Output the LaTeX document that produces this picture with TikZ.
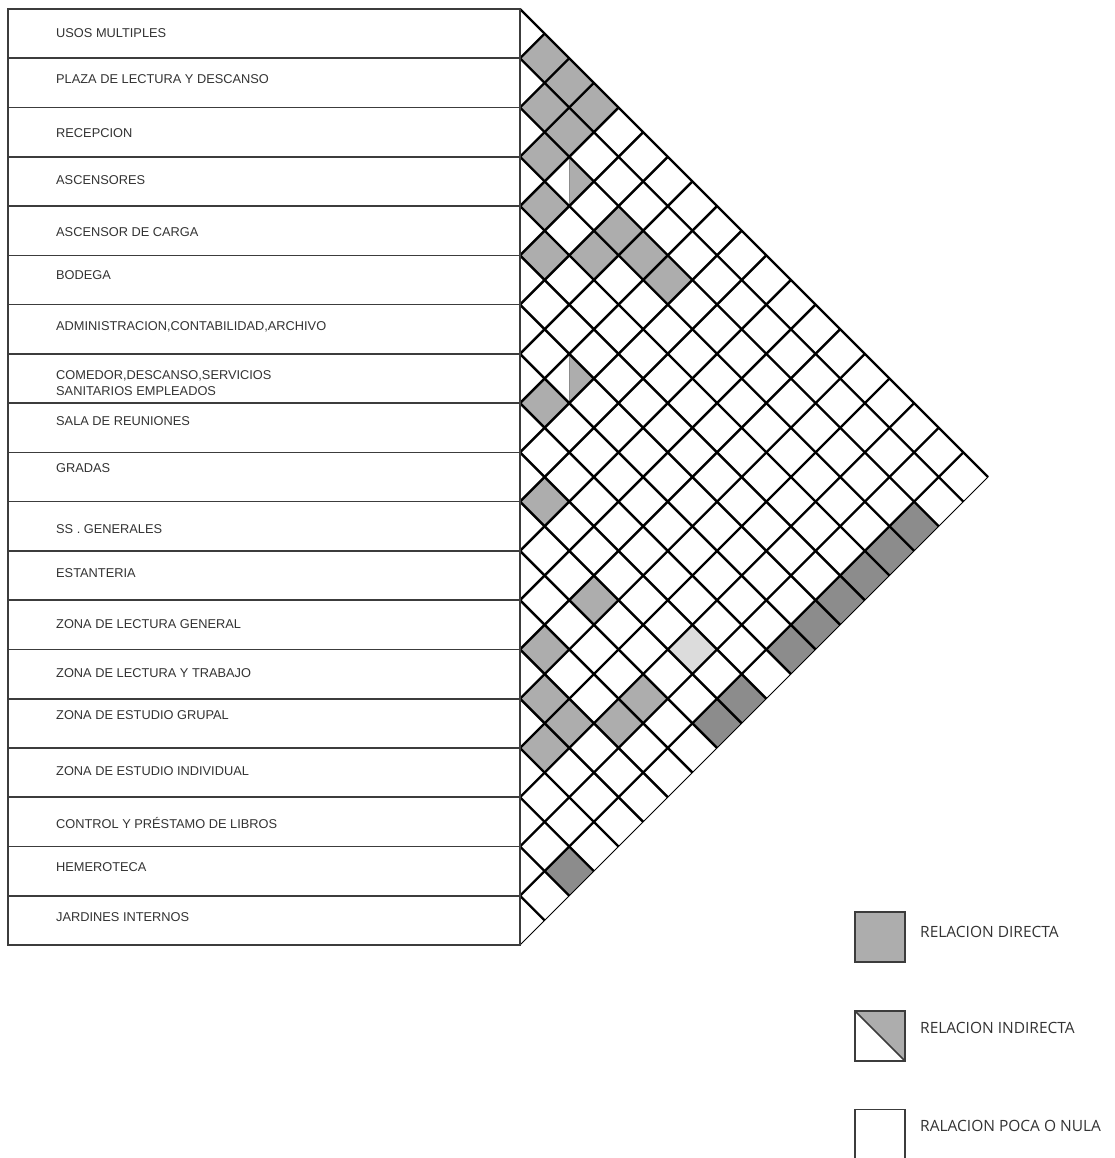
\documentclass[tikz,border=0pt]{standalone}
\usepackage{fontspec}
\setmainfont{Liberation Sans}
\newfontfamily\legfont{Open Sans}
\definecolor{cgray}{HTML}{ADADAD}
\definecolor{cdark}{HTML}{8C8C8C}
\definecolor{clight}{HTML}{DCDCDC}
\definecolor{ctext}{HTML}{333333}
\definecolor{cbox}{HTML}{3C3C3C}
\newcommand\relcell[3]{%
  \pgfmathsetmacro\cx{520+(#2-#1)*\uu}%
  \pgfmathsetmacro\cy{9+(#1+#2+1)*\uu}%
  \fill[#3] (\cx-\uu,\cy) -- (\cx,\cy-\uu) -- (\cx+\uu,\cy) -- (\cx,\cy+\uu) -- cycle;}
\newcommand\relhalf[2]{%
  \pgfmathsetmacro\cx{520+(#2-#1)*\uu}%
  \pgfmathsetmacro\cy{9+(#1+#2+1)*\uu}%
  \fill[cgray] (\cx,\cy-\uu) -- (\cx+\uu,\cy) -- (\cx,\cy+\uu) -- cycle;
  \draw[cdark, line width=1pt] (\cx,\cy-\uu) -- (\cx,\cy+\uu);}
\def\uu{24.632}
\begin{document}
\begin{tikzpicture}[x=1pt,y=-1pt,
  lbl/.style={anchor=base west, inner sep=0pt, text=ctext, font=\fontsize{12.8}{15}\selectfont},
  leg/.style={anchor=base west, inner sep=0pt, text=ctext, font=\legfont\fontsize{15.5}{18}\selectfont},
  gridline/.style={line width=2.4pt, black},
  boxline/.style={line width=1.6pt, cbox},
  legsq/.style={minimum size=50pt, inner sep=0pt, outer sep=0pt},
  legline/.style={draw=cbox, line width=1.6pt}]
\useasboundingbox (0,0) rectangle (1114,1158);
\fill[white] (0,0) rectangle (1114,1158);

% filled cells
\foreach \i/\j in {0/1,0/2,1/2,0/3,1/3,2/3,3/4,4/5,3/6,2/6,2/7,2/8,7/8,9/10,10/13,12/13,13/14,11/16,13/15,12/16,14/15}
  {\relcell{\i}{\j}{cgray}}
\foreach \i/\j in {2/18,3/18,4/18,5/18,6/18,7/18,9/18,10/18,16/18}
  {\relcell{\i}{\j}{cdark}}
\relcell{9}{16}{clight}
\relhalf{2}{4}
\relhalf{6}{8}

% grid
\foreach \k in {1,...,18} {
  \pgfmathsetmacro\yk{9+2*\uu*\k}
  \draw[gridline] (520,\yk) -- ({520+(945-\yk)/2},{(945+\yk)/2});
  \draw[gridline] (520,\yk) -- ({520+(\yk-9)/2},{(\yk+9)/2});
}
\coordinate (tl) at (520,9);
\coordinate (bl) at (520,945);
\coordinate (apex) at (988,477);
\draw[gridline] (tl) -- (apex);
\draw[line width=1pt] (bl) -- (apex);

% table
\foreach \k in {1,...,18} {
  \pgfmathsetmacro\yk{9+2*\uu*\k}
  \draw[boxline] (8,\yk) -- (520,\yk);
}
\draw[boxline] (8,9) rectangle (520,945);

% labels
\node[lbl] (l0) at (56,37.7) {USOS MULTIPLES};
\node[lbl] (l1) at (56,83.7) {PLAZA DE LECTURA Y DESCANSO};
\node[lbl] (l2) at (56,137.7) {RECEPCION};
\node[lbl] (l3) at (56,185) {ASCENSORES};
\node[lbl] (l4) at (56,236.7) {ASCENSOR DE CARGA};
\node[lbl] (l5) at (56,279) {BODEGA};
\node[lbl] (l6) at (56,330.7) {ADMINISTRACION,CONTABILIDAD,ARCHIVO};
\node[lbl] (l7) at (56,379) {COMEDOR,DESCANSO,SERVICIOS};
\node[lbl] (l7b) at (56,395) {SANITARIOS EMPLEADOS};
\node[lbl] (l8) at (56,425) {SALA DE REUNIONES};
\node[lbl] (l9) at (56,472) {GRADAS};
\node[lbl] (l10) at (56,533) {SS . GENERALES};
\node[lbl] (l11) at (56,577.7) {ESTANTERIA};
\node[lbl] (l12) at (56,628.3) {ZONA DE LECTURA GENERAL};
\node[lbl] (l13) at (56,677.3) {ZONA DE LECTURA Y TRABAJO};
\node[lbl] (l14) at (56,719) {ZONA DE ESTUDIO GRUPAL};
\node[lbl] (l15) at (56,775.3) {ZONA DE ESTUDIO INDIVIDUAL};
\node[lbl] (l16) at (56,828.3) {CONTROL Y PRÉSTAMO DE LIBROS};
\node[lbl] (l17) at (56,871.7) {HEMEROTECA};
\node[lbl] (l18) at (56,921) {JARDINES INTERNOS};

% legend
\node[legsq, fill=cgray, legline] (lg1) at (880,937) {};
\node[legsq] (lg2) at (880,1036) {};
\fill[cgray] (lg2.north west) -- (lg2.north east) -- (lg2.south east) -- cycle;
\draw[legline] (lg2.north west) rectangle (lg2.south east);
\draw[legline] (lg2.north west) -- (lg2.south east);
\node[legsq, legline] (lg3) at (880,1134.5) {};
\node[leg] (t1) at (920,937.5) {RELACION DIRECTA};
\node[leg] (t2) at (920,1033.5) {RELACION INDIRECTA};
\node[leg] (t3) at (920,1131) {RALACION POCA O NULA};
\end{tikzpicture}
\end{document}
